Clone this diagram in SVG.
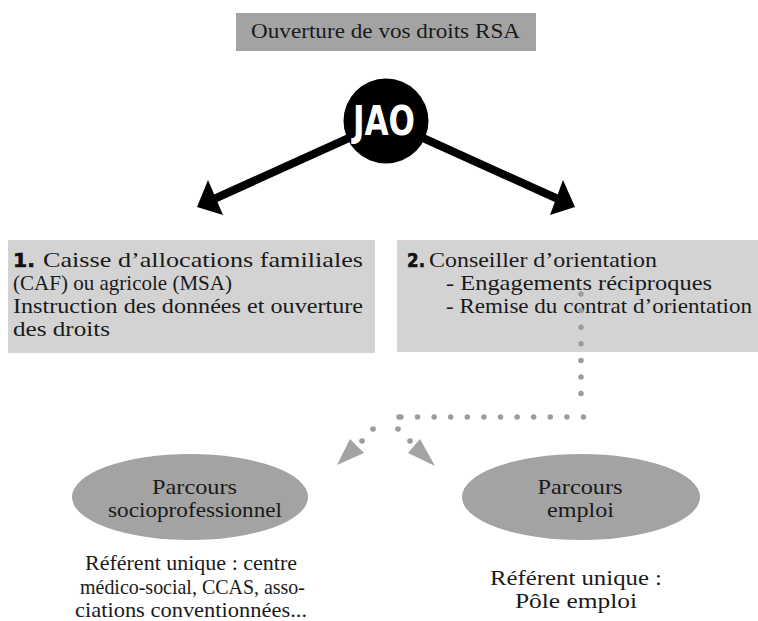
<svg xmlns="http://www.w3.org/2000/svg" width="758" height="621" viewBox="0 0 758 621">
<style>
.t{font-family:"Liberation Serif","Times New Roman",serif;font-size:22px;fill:#1a1a1a}
.c{text-anchor:middle}
.num{font-family:"DejaVu Sans","Liberation Sans",sans-serif;font-weight:bold;font-size:19px;fill:#111;stroke:#111;stroke-width:0.6}
.box{fill:#d3d3d3}
.oval{fill:#a3a3a3}
.dots{fill:none;stroke:#9c9c9c;stroke-width:5.5;stroke-linecap:round;stroke-dasharray:0 16.6}
.dot{fill:#9c9c9c}
</style>
<rect width="758" height="621" fill="#fff"/>
<g id="title">
<rect x="236" y="13" width="300" height="38" fill="#a3a3a3"/>
<text class="t" x="251" y="38" textLength="269" lengthAdjust="spacingAndGlyphs">Ouverture de vos droits RSA</text>
</g>
<g id="box1">
<rect class="box" x="8" y="240" width="367" height="113"/>
<text class="num" x="13" y="267" textLength="22" lengthAdjust="spacingAndGlyphs">1.</text>
<text class="t" x="43" y="267" textLength="320" lengthAdjust="spacingAndGlyphs">Caisse d’allocations familiales</text>
<text class="t" x="13" y="290" textLength="219" lengthAdjust="spacingAndGlyphs">(CAF) ou agricole (MSA)</text>
<text class="t" x="13" y="313" textLength="350" lengthAdjust="spacingAndGlyphs">Instruction des données et ouverture</text>
<text class="t" x="13" y="336" textLength="97" lengthAdjust="spacingAndGlyphs">des droits</text>
</g>
<g id="box2">
<rect class="box" x="397" y="240" width="361" height="112"/>
<text class="num" x="407" y="267" textLength="18" lengthAdjust="spacingAndGlyphs">2.</text>
<text class="t" x="429" y="267" textLength="228" lengthAdjust="spacingAndGlyphs">Conseiller d’orientation</text>
<text class="t" x="446" y="290" textLength="266" lengthAdjust="spacingAndGlyphs">- Engagements réciproques</text>
<text class="t" x="446" y="313" textLength="306" lengthAdjust="spacingAndGlyphs">- Remise du contrat d’orientation</text>
</g>
<g id="connectors">
<line x1="360" y1="133" x2="214" y2="199" stroke="#000" stroke-width="8"/>
<polygon points="197,207 208,180 223,215" fill="#000"/>
<line x1="412" y1="133" x2="558" y2="199" stroke="#000" stroke-width="8"/>
<polygon points="575,207 563,180 550,215" fill="#000"/>
<path class="dots" d="M581 294 V410"/>
<path class="dots" d="M583.5 417 H386"/>
<circle class="dot" cx="399" cy="417" r="2.8"/>
<circle class="dot" cx="373" cy="429" r="2.8"/>
<circle class="dot" cx="362" cy="441" r="2.8"/>
<polygon points="337,465 350,439 364,453" fill="#a3a3a3"/>
<circle class="dot" cx="398" cy="429" r="2.8"/>
<circle class="dot" cx="410" cy="441" r="2.8"/>
<polygon points="435,466 420,439 408,453" fill="#a3a3a3"/>
</g>
<g id="jao">
<circle cx="386" cy="121" r="42.5" fill="#000"/>
<text x="0" y="0" transform="translate(384 135) scale(0.76 1)" text-anchor="middle" font-family="DejaVu Sans, sans-serif" font-weight="bold" font-size="41" fill="#fff">JAO</text>
</g>
<g id="parcours-socio">
<ellipse class="oval" cx="190" cy="497" rx="118" ry="43"/>
<text class="t c" x="194.5" y="494" textLength="85" lengthAdjust="spacingAndGlyphs">Parcours</text>
<text class="t c" x="195" y="517" textLength="174" lengthAdjust="spacingAndGlyphs">socioprofessionnel</text>
<text class="t c" x="191" y="570" textLength="212" lengthAdjust="spacingAndGlyphs">Référent unique : centre</text>
<text class="t c" x="192.5" y="594" textLength="225" lengthAdjust="spacingAndGlyphs">médico-social, CCAS, asso-</text>
<text class="t c" x="191" y="617" textLength="232" lengthAdjust="spacingAndGlyphs">ciations conventionnées...</text>
</g>
<g id="parcours-emploi">
<ellipse class="oval" cx="581" cy="497" rx="119" ry="43"/>
<text class="t c" x="580" y="494" textLength="85" lengthAdjust="spacingAndGlyphs">Parcours</text>
<text class="t c" x="580.5" y="517" textLength="67" lengthAdjust="spacingAndGlyphs">emploi</text>
<text class="t c" x="576" y="585" textLength="172" lengthAdjust="spacingAndGlyphs">Référent unique :</text>
<text class="t c" x="576" y="608" textLength="122" lengthAdjust="spacingAndGlyphs">Pôle emploi</text>
</g>
</svg>
